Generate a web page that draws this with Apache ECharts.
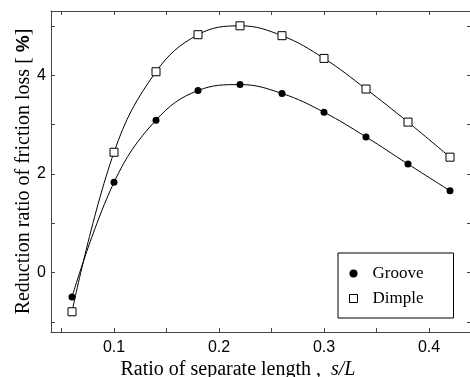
<!DOCTYPE html>
<html>
<head>
<meta charset="utf-8">
<script src="https://cdn.jsdelivr.net/npm/echarts@6/dist/echarts.min.js"></script>
<style>
  html, body { margin: 0; padding: 0; background: #fff; }
  #chart { width: 470px; height: 377px; }
</style>
</head>
<body>
<div id="chart"></div>
<script>
// separate length ratio s/L
const ratios = [0.06, 0.10, 0.14, 0.18, 0.22, 0.26, 0.30, 0.34, 0.38, 0.42];
// reduction ratio of friction loss [%]
const groove = [-0.49, 1.83, 3.09, 3.69, 3.81, 3.63, 3.25, 2.75, 2.20, 1.66];
const dimple = [-0.79, 2.44, 4.07, 4.82, 5.00, 4.80, 4.34, 3.72, 3.05, 2.34];

const xTicks = [0.05, 0.1, 0.15, 0.2, 0.25, 0.3, 0.35, 0.4];
const xLabels = [0.1, 0.2, 0.3, 0.4];
const yTicks = [-1, 0, 1, 2, 3, 4, 5];
const yLabels = [0, 2, 4];

const lineColor = '#444';
const serif = '"Liberation Serif", "Times New Roman", serif';
const sans = '"Liberation Sans", Arial, sans-serif';

const chart = echarts.init(document.getElementById('chart'), null, { renderer: 'canvas' });

// 坐标轴公共样式
function frameAxis(extra) {
  return Object.assign({
    type: 'value',
    splitLine: { show: false },
    axisLine: { show: true, onZero: false, lineStyle: { color: lineColor, width: 1 } },
    axisTick: { show: true, inside: true, length: 4, lineStyle: { color: lineColor } }
  }, extra);
}

chart.setOption({
  animation: false,
  backgroundColor: '#fff',
  grid: { left: 51, top: 11, width: 420, height: 321, outerBoundsMode: 'none', containLabel: false },
  legend: {
    orient: 'vertical',
    left: 338,
    top: 253,
    width: 109,
    padding: [12, 30, 11, 11],
    itemGap: 8,
    itemWidth: 8,
    itemHeight: 8,
    borderColor: '#000',
    borderWidth: 1,
    textStyle: { fontFamily: serif, fontSize: 17, color: '#000', padding: [0, 0, 0, 10] },
    data: [
      { name: 'Groove', icon: 'circle', itemStyle: { color: '#000' } },
      { name: 'Dimple', icon: 'rect', itemStyle: { color: '#fff', borderColor: '#000', borderWidth: 1 } }
    ]
  },
  xAxis: [
    frameAxis({
      position: 'bottom',
      min: 0.04,
      max: 0.44,
      name: 'Ratio of separate length ,  {i|s/L}',
      nameLocation: 'middle',
      nameGap: 28,
      nameMoveOverlap: false,
      nameTextStyle: {
        fontFamily: serif, fontSize: 20, color: '#000', padding: [0, 46, 0, 0],
        rich: { i: { fontFamily: serif, fontSize: 20, fontStyle: 'italic', color: '#000' } }
      },
      axisTick: { show: true, inside: true, length: 4, customValues: xTicks, lineStyle: { color: lineColor } },
      axisLabel: {
        customValues: xLabels, margin: 8, fontFamily: sans, fontSize: 16, color: '#000',
        formatter: v => v.toFixed(1)
      }
    }),
    frameAxis({
      position: 'top',
      min: 0.04,
      max: 0.44,
      axisTick: { show: true, inside: true, length: 4, customValues: xTicks, lineStyle: { color: lineColor } },
      axisLabel: { show: false }
    })
  ],
  yAxis: [
    frameAxis({
      position: 'left',
      min: -1.2,
      max: 5.3,
      name: 'Reduction ratio of friction loss [ {p|%}]',
      nameLocation: 'middle',
      nameGap: 17,
      nameRotate: 90,
      nameMoveOverlap: false,
      nameTextStyle: {
        fontFamily: serif, fontSize: 20, color: '#000',
        rich: { p: { fontFamily: sans, fontSize: 19, fontWeight: 'bold', color: '#000' } }
      },
      axisTick: { show: true, inside: true, length: 4, customValues: yTicks, lineStyle: { color: lineColor } },
      axisLabel: { customValues: yLabels, margin: 5, fontFamily: sans, fontSize: 16, color: '#000' }
    }),
    frameAxis({
      position: 'right',
      min: -1.2,
      max: 5.3,
      axisLine: { show: false },
      axisTick: { show: true, inside: true, length: 4, customValues: yTicks, lineStyle: { color: lineColor } },
      axisLabel: { show: false }
    })
  ],
  series: [
    {
      name: 'Groove',
      type: 'line',
      smooth: 0.4,
      data: ratios.map((x, i) => [x, groove[i]]),
      symbol: 'circle',
      symbolSize: 7,
      itemStyle: { color: '#000' },
      lineStyle: { color: '#000', width: 1 }
    },
    {
      name: 'Dimple',
      type: 'line',
      smooth: 0.4,
      data: ratios.map((x, i) => [x, dimple[i]]),
      symbol: 'rect',
      symbolSize: 8,
      itemStyle: { color: '#fff', borderColor: '#000', borderWidth: 1 },
      lineStyle: { color: '#000', width: 1 }
    }
  ]
});
</script>
</body>
</html>
